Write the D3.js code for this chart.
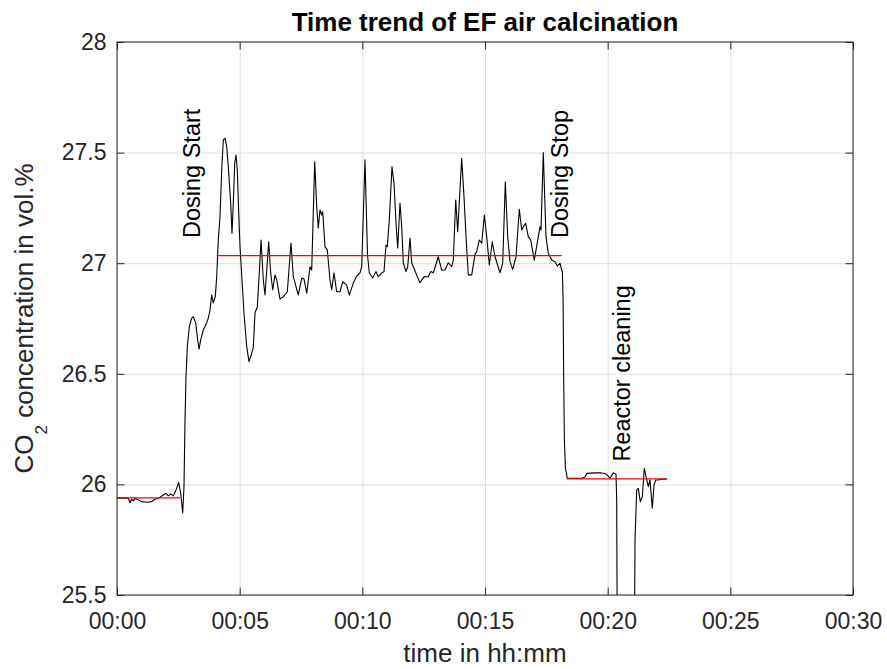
<!DOCTYPE html>
<html>
<head>
<meta charset="utf-8">
<script src="https://cdn.jsdelivr.net/npm/d3@7"></script>
<style>
  body { margin: 0; background: #fff; }
  text { font-family: "Liberation Sans", Arial, Helvetica, sans-serif; }
</style>
</head>
<body>
<script>
// measured trend, time in minutes after start
const timeMin = [
  0, 0.461, 0.530, 0.599, 0.664, 0.734, 0.868, 1.007, 1.211, 1.414, 1.549, 1.683, 1.887, 1.997,
  2.091, 2.189, 2.295, 2.405, 2.515, 2.597, 2.678, 2.731, 2.772, 2.813, 2.866, 2.947, 3.045, 3.110,
  3.208, 3.289, 3.342, 3.412, 3.518, 3.656, 3.721, 3.791, 3.860, 3.925, 4.007, 4.064, 4.129, 4.198,
  4.268, 4.333, 4.402, 4.471, 4.537, 4.635, 4.687, 4.741, 4.798, 4.851, 4.904, 4.961, 5.014, 5.095,
  5.177, 5.287, 5.380, 5.491, 5.556, 5.625, 5.719, 5.800, 5.870, 5.963, 6.033, 6.183, 6.265, 6.347,
  6.440, 6.510, 6.644, 6.779, 6.942, 7.092, 7.186, 7.390, 7.529, 7.622, 7.732, 7.867, 7.936, 8.059,
  8.140, 8.205, 8.274, 8.344, 8.385, 8.478, 8.572, 8.682, 8.751, 8.845, 8.955, 9.089, 9.199, 9.363,
  9.469, 9.632, 9.770, 9.905, 9.974, 10.109, 10.211, 10.284, 10.423, 10.557, 10.651, 10.790, 10.883,
  10.965, 11.018, 11.099, 11.209, 11.291, 11.372, 11.442, 11.535, 11.605, 11.670, 11.780, 11.850,
  11.943, 12.013, 12.106, 12.241, 12.351, 12.514, 12.689, 12.787, 12.893, 13.097, 13.235, 13.370,
  13.504, 13.643, 13.708, 13.806, 13.887, 14.050, 14.144, 14.226, 14.319, 14.458, 14.592, 14.662,
  14.768, 14.866, 14.972, 15.070, 15.176, 15.298, 15.408, 15.612, 15.722, 15.828, 15.925, 16.019,
  16.129, 16.264, 16.398, 16.496, 16.561, 16.659, 16.765, 16.863, 17.009, 17.173, 17.242, 17.283,
  17.376, 17.486, 17.580, 17.719, 17.853, 17.947, 18.057, 18.126, 18.155, 18.183, 18.208, 18.236,
  18.277, 18.355, 18.941, 19.075, 19.157, 19.484, 19.688, 19.892, 19.985, 20.095, 20.230, 20.340,
  20.368, 20.401, 21.074, 21.115, 21.184, 21.249, 21.331, 21.412, 21.494, 21.563, 21.657, 21.726,
  21.820, 21.889, 21.958, 22.064, 22.203, 22.407
];
const co2 = [
  25.938, 25.938, 25.917, 25.933, 25.925, 25.937, 25.930, 25.922, 25.919, 25.922, 25.933, 25.937, 25.952, 25.960,
  25.948, 25.957, 25.948, 25.975, 26.008, 25.960, 25.871, 25.990, 26.291, 26.487, 26.623, 26.713, 26.752, 26.758,
  26.730, 26.653, 26.612, 26.653, 26.698, 26.730, 26.752, 26.788, 26.856, 26.820, 26.849, 26.939, 27.105, 27.210,
  27.421, 27.557, 27.565, 27.527, 27.436, 27.271, 27.135, 27.271, 27.452, 27.489, 27.421, 27.226, 27.075, 26.924,
  26.774, 26.623, 26.555, 26.593, 26.621, 26.775, 26.802, 26.956, 27.105, 26.924, 26.856, 27.097, 26.956, 26.879,
  26.947, 26.924, 26.838, 26.849, 26.871, 27.091, 26.939, 26.856, 26.933, 26.929, 26.865, 26.984, 26.969, 27.459,
  27.255, 27.159, 27.241, 27.218, 27.233, 27.075, 27.060, 26.924, 26.879, 26.956, 26.871, 26.871, 26.916, 26.901,
  26.856, 26.910, 26.942, 26.956, 26.984, 27.467, 27.037, 26.956, 26.933, 26.962, 26.939, 26.956, 26.962,
  27.082, 27.075, 27.195, 27.436, 27.363, 27.182, 27.069, 27.272, 27.165, 27.001, 26.962, 26.984,
  27.114, 27.001, 26.977, 26.939, 26.912, 26.938, 26.939, 26.962, 26.957, 27.029, 26.969, 26.969,
  27.002, 26.984, 27.014, 27.286, 27.142, 27.474, 27.301, 27.120, 26.947, 26.947, 27.040, 27.052,
  27.105, 27.090, 27.218, 27.120, 26.992, 27.097, 27.029, 26.957, 27.000, 27.368, 27.120, 27.007,
  26.972, 27.029, 27.244, 27.150, 27.165, 27.180, 27.120, 27.105, 27.014, 27.120, 27.165, 27.150,
  27.500, 27.120, 27.045, 27.014, 27.007, 26.987, 27.000, 26.969, 26.960, 26.834, 26.472, 26.201,
  26.074, 26.028, 26.028, 26.033, 26.050, 26.052, 26.053, 26.049, 26.042, 26.028, 26.052, 26.047,
  25.930, 25.000, 25.000, 25.749, 25.975, 25.982, 25.922, 25.944, 26.073, 26.035, 25.990, 26.020,
  25.892, 25.997, 26.020, 26.020, 26.023, 26.023
];

// mean levels (red lines)
const meanStart = [0, 4.064, 18.33];
const meanEnd = [2.568, 18.126, 22.42];
const meanValue = [25.939, 27.034, 26.025];

const xTicks = [0, 5, 10, 15, 20, 25, 30];
const xTickLabels = ["00:00", "00:05", "00:10", "00:15", "00:20", "00:25", "00:30"];
const yTicks = [25.5, 26, 26.5, 27, 27.5, 28];
const yTickLabels = ["25.5", "26", "26.5", "27", "27.5", "28"];

const eventLabels = ["Dosing Start", "Dosing Stop", "Reactor cleaning"];

const width = 887;
const height = 669;
const plotLeft = 117, plotRight = 853, plotTop = 42, plotBottom = 595;
const tickLen = 7.5;

let x = d3.scaleLinear().domain([0, 30]).range([plotLeft, plotRight]);
let y = d3.scaleLinear().domain([25.5, 28]).range([plotBottom, plotTop]);

let svg = d3.select("body")
  .append("svg")
  .attr("width", width)
  .attr("height", height);

svg.append("defs")
  .append("clipPath")
    .attr("id", "plotClip")
  .append("rect")
    .attr("x", plotLeft)
    .attr("y", plotTop)
    .attr("width", plotRight - plotLeft)
    .attr("height", plotBottom - plotTop);

// grid
svg.append("g")
  .attr("transform", `translate(0,${plotBottom})`)
  .call(d3.axisBottom(x).tickValues(xTicks).tickSize(-(plotBottom - plotTop)).tickFormat(""))
  .call(g => g.select(".domain").remove())
  .selectAll("line").attr("stroke", "#dfdfdf");

svg.append("g")
  .attr("transform", `translate(${plotLeft},0)`)
  .call(d3.axisLeft(y).tickValues(yTicks).tickSize(-(plotRight - plotLeft)).tickFormat(""))
  .call(g => g.select(".domain").remove())
  .selectAll("line").attr("stroke", "#dfdfdf");

// trend line
let series = timeMin.map((t, i) => [t, co2[i]]);

let line = d3.line()
  .x(d => x(d[0]))
  .y(d => y(d[1]));

svg.append("path")
  .datum(series)
  .attr("clip-path", "url(#plotClip)")
  .attr("fill", "none")
  .attr("stroke", "#000")
  .attr("stroke-width", 1.1)
  .attr("stroke-linejoin", "round")
  .attr("d", line);

svg.selectAll(".meanLine")
  .data(meanValue)
  .enter()
  .append("line")
    .attr("class", "meanLine")
    .attr("x1", (d, i) => x(meanStart[i]))
    .attr("x2", (d, i) => x(meanEnd[i]))
    .attr("y1", d => y(d))
    .attr("y2", d => y(d))
    .attr("stroke", "#ff0000")
    .attr("stroke-width", 1.3);

// axes with inward ticks
function styleAxis(g) {
  g.select(".domain").remove();
  g.selectAll("line").attr("stroke", "#262626");
  g.selectAll("text")
    .attr("fill", "#262626")
    .style("font-size", "23px")
    .style("font-family", "'Liberation Sans', Arial, sans-serif");
}

svg.append("g")
  .attr("transform", `translate(0,${plotBottom})`)
  .call(d3.axisBottom(x)
    .tickValues(xTicks)
    .tickSize(-tickLen)
    .tickPadding(18)
    .tickFormat((d, i) => xTickLabels[i]))
  .call(styleAxis);

svg.append("g")
  .attr("transform", `translate(0,${plotTop})`)
  .call(d3.axisTop(x).tickValues(xTicks).tickSize(-tickLen).tickFormat(""))
  .call(styleAxis);

svg.append("g")
  .attr("transform", `translate(${plotLeft},0)`)
  .call(d3.axisLeft(y)
    .tickValues(yTicks)
    .tickSize(-tickLen)
    .tickPadding(10.5)
    .tickFormat((d, i) => yTickLabels[i]))
  .call(styleAxis);

svg.append("g")
  .attr("transform", `translate(${plotRight},0)`)
  .call(d3.axisRight(y).tickValues(yTicks).tickSize(-tickLen).tickFormat(""))
  .call(styleAxis);

svg.append("rect")
  .attr("x", plotLeft)
  .attr("y", plotTop)
  .attr("width", plotRight - plotLeft)
  .attr("height", plotBottom - plotTop)
  .attr("fill", "none")
  .attr("stroke", "#262626")
  .attr("stroke-width", 1);

// event annotations, anchored in data units
let eventAnchor = [[3.383, 27.114], [18.383, 27.114], [20.911, 26.103]];

svg.selectAll(".event")
  .data(eventLabels)
  .enter()
  .append("text")
    .attr("class", "event")
    .attr("transform", (d, i) => `translate(${x(eventAnchor[i][0])},${y(eventAnchor[i][1])}) rotate(-90)`)
    .attr("fill", "#000")
    .style("font-size", "23.5px")
    .text(d => d);

// title and labels
svg.append("text")
  .attr("x", (plotLeft + plotRight) / 2)
  .attr("y", 30.6)
  .attr("text-anchor", "middle")
  .attr("fill", "#000")
  .style("font-size", "26px")
  .style("font-weight", "bold")
  .text("Time trend of EF air calcination");

svg.append("text")
  .attr("x", (plotLeft + plotRight) / 2)
  .attr("y", 662)
  .attr("text-anchor", "middle")
  .attr("fill", "#262626")
  .style("font-size", "26px")
  .text("time in hh:mm");

let yLabel = svg.append("text")
  .attr("transform", `translate(33,${(plotTop + plotBottom) / 2}) rotate(-90)`)
  .attr("text-anchor", "middle")
  .attr("fill", "#262626")
  .style("font-size", "26px");

yLabel.append("tspan").text("CO");
yLabel.append("tspan").attr("dy", 13.5).style("font-size", "17px").text("2");
yLabel.append("tspan").attr("dy", -13.5).text(" concentration in vol.%");
</script>
</body>
</html>
